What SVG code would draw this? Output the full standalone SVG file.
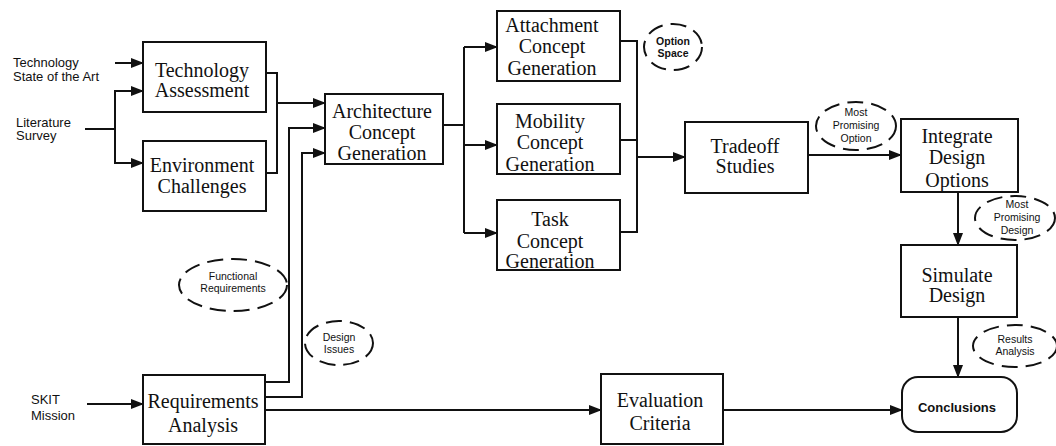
<svg xmlns="http://www.w3.org/2000/svg" width="1056" height="446" viewBox="0 0 1056 446">
<style>
.box{fill:#fff;stroke:#111;stroke-width:2}
.bt{font-family:"Liberation Serif",serif;font-size:20px;fill:#111;text-anchor:middle}
.st{font-family:"Liberation Sans",sans-serif;font-size:13px;fill:#111}
.et{font-family:"Liberation Sans",sans-serif;font-size:10.5px;fill:#111;text-anchor:middle}
.ct{font-family:"Liberation Sans",sans-serif;font-size:13px;font-weight:bold;fill:#111;text-anchor:middle}
.ell{fill:none;stroke:#111;stroke-width:2;stroke-dasharray:16 8}
.c path{fill:none;stroke:#111;stroke-width:2}
</style>
<defs>
<marker id="ah" markerUnits="userSpaceOnUse" markerWidth="14" markerHeight="12" refX="12" refY="6" orient="auto">
<path d="M0,1 L13,6 L0,11 Z" fill="#111"/>
</marker>
</defs>

<g id="labels-in">
<text class="st" x="13" y="67">Technology</text>
<text class="st" x="13" y="81">State of the Art</text>
<text class="st" x="16" y="127">Literature</text>
<text class="st" x="16" y="140">Survey</text>
<text class="st" x="31" y="404">SKIT</text>
<text class="st" x="31" y="420">Mission</text>
</g>

<g class="c" id="connectors">
<path d="M115 63 H143" marker-end="url(#ah)"/>
<path d="M85 129 H115 V91 H143" marker-end="url(#ah)"/>
<path d="M115 129 V163 H143" marker-end="url(#ah)"/>
<path d="M87 404 H143" marker-end="url(#ah)"/>
<path d="M266 73 H277 V173 H266"/>
<path d="M277 103 H325" marker-end="url(#ah)"/>
<path d="M265 382 H289 V128 H325" marker-end="url(#ah)"/>
<path d="M265 397 H302 V153 H325" marker-end="url(#ah)"/>
<path d="M265 410 H601" marker-end="url(#ah)"/>
<path d="M723 410 H902" marker-end="url(#ah)"/>
<path d="M443 125 H464"/>
<path d="M464 47 V233"/>
<path d="M464 47 H497" marker-end="url(#ah)"/>
<path d="M464 145 H497" marker-end="url(#ah)"/>
<path d="M464 233 H497" marker-end="url(#ah)"/>
<path d="M620 41 H637 V232 H620"/>
<path d="M620 140 H637"/>
<path d="M637 157 H685" marker-end="url(#ah)"/>
<path d="M808 155 H901" marker-end="url(#ah)"/>
<path d="M958 192 V245" marker-end="url(#ah)"/>
<path d="M958 317 V377" marker-end="url(#ah)"/>
</g>

<g id="tech-assessment">
<rect class="box" x="143" y="42" width="123" height="70"/>
<text class="bt" x="202" y="77">Technology</text>
<text class="bt" x="202" y="97">Assessment</text>
</g>
<g id="env-challenges">
<rect class="box" x="143" y="141" width="123" height="70"/>
<text class="bt" x="202" y="172">Environment</text>
<text class="bt" x="202" y="193">Challenges</text>
</g>
<g id="architecture">
<rect class="box" x="325" y="94" width="118" height="70"/>
<text class="bt" x="382" y="118">Architecture</text>
<text class="bt" x="382" y="139">Concept</text>
<text class="bt" x="382" y="160">Generation</text>
</g>
<g id="attachment">
<rect class="box" x="497" y="11" width="123" height="70"/>
<text class="bt" x="552" y="32">Attachment</text>
<text class="bt" x="552" y="53">Concept</text>
<text class="bt" x="552" y="75">Generation</text>
</g>
<g id="mobility">
<rect class="box" x="497" y="104" width="123" height="70"/>
<text class="bt" x="550" y="128">Mobility</text>
<text class="bt" x="550" y="149">Concept</text>
<text class="bt" x="550" y="171">Generation</text>
</g>
<g id="task">
<rect class="box" x="497" y="200" width="123" height="70"/>
<text class="bt" x="550" y="226">Task</text>
<text class="bt" x="550" y="248">Concept</text>
<text class="bt" x="550" y="268">Generation</text>
</g>
<g id="tradeoff">
<rect class="box" x="685" y="122" width="123" height="71"/>
<text class="bt" x="745" y="153">Tradeoff</text>
<text class="bt" x="745" y="173">Studies</text>
</g>
<g id="integrate">
<rect class="box" x="901" y="119" width="117" height="73"/>
<text class="bt" x="957" y="143">Integrate</text>
<text class="bt" x="957" y="164">Design</text>
<text class="bt" x="957" y="187">Options</text>
</g>
<g id="simulate">
<rect class="box" x="901" y="245" width="116" height="72"/>
<text class="bt" x="957" y="282">Simulate</text>
<text class="bt" x="957" y="302">Design</text>
</g>
<g id="requirements">
<rect class="box" x="143" y="375" width="122" height="69"/>
<text class="bt" x="203" y="408">Requirements</text>
<text class="bt" x="203" y="432">Analysis</text>
</g>
<g id="evaluation">
<rect class="box" x="601" y="374" width="122" height="70"/>
<text class="bt" x="660" y="407">Evaluation</text>
<text class="bt" x="660" y="430">Criteria</text>
</g>
<g id="conclusions">
<rect class="box" x="902" y="377" width="115" height="55" rx="16" ry="16"/>
<text class="ct" x="957" y="412">Conclusions</text>
</g>

<g id="option-space">
<ellipse class="ell" cx="673" cy="47" rx="29" ry="23"/>
<text class="et" x="673" y="45" font-weight="bold" font-size="10">Option</text>
<text class="et" x="673" y="57" font-weight="bold" font-size="10">Space</text>
</g>
<g id="most-promising-option">
<ellipse class="ell" cx="856" cy="126" rx="40" ry="24"/>
<text class="et" x="856" y="116">Most</text>
<text class="et" x="856" y="129">Promising</text>
<text class="et" x="856" y="142">Option</text>
</g>
<g id="most-promising-design">
<ellipse class="ell" cx="1015" cy="218" rx="40" ry="22"/>
<text class="et" x="1017" y="208">Most</text>
<text class="et" x="1017" y="221">Promising</text>
<text class="et" x="1017" y="234">Design</text>
</g>
<g id="functional-req">
<ellipse class="ell" cx="233" cy="285" rx="54" ry="26"/>
<text class="et" x="233" y="280">Functional</text>
<text class="et" x="233" y="292">Requirements</text>
</g>
<g id="design-issues">
<ellipse class="ell" cx="339" cy="343" rx="34" ry="22"/>
<text class="et" x="339" y="341">Design</text>
<text class="et" x="339" y="353">Issues</text>
</g>
<g id="results-analysis">
<ellipse class="ell" cx="1015" cy="346" rx="42" ry="21"/>
<text class="et" x="1015" y="343">Results</text>
<text class="et" x="1015" y="355">Analysis</text>
</g>
</svg>
